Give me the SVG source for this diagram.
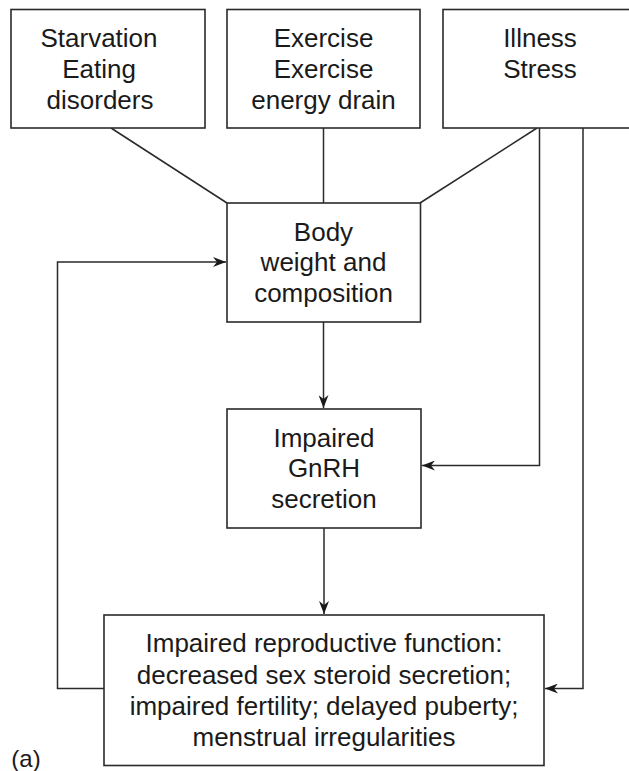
<svg xmlns="http://www.w3.org/2000/svg" width="629" height="771" viewBox="0 0 629 771">
<style>
.box{fill:#fff;stroke:#2a2a2a;stroke-width:1.6}
.ln{fill:none;stroke:#2a2a2a;stroke-width:1.5}
text{font-family:"Liberation Sans",Arial,sans-serif;font-size:26px;fill:#1a1a1a;text-anchor:middle}
</style>
<defs>
<marker id="ah" markerUnits="userSpaceOnUse" markerWidth="14" markerHeight="10" refX="13" refY="5" orient="auto">
<path d="M0,0 L13,5 L0,10 L4,5 z" fill="#1a1a1a"/>
</marker>
</defs>
<rect width="629" height="771" fill="#fff"/>
<g id="connectors">
<line class="ln" x1="111" y1="128" x2="227" y2="203"/>
<line class="ln" x1="323.5" y1="128" x2="323.5" y2="203"/>
<line class="ln" x1="537" y1="128" x2="420" y2="203"/>
<line class="ln" x1="323.5" y1="322" x2="323.5" y2="408" marker-end="url(#ah)"/>
<line class="ln" x1="324" y1="528" x2="324" y2="614" marker-end="url(#ah)"/>
<polyline class="ln" points="539.5,128 539.5,465.5 422,465.5" marker-end="url(#ah)"/>
<polyline class="ln" points="583,128 583,688.5 545,688.5" marker-end="url(#ah)"/>
<polyline class="ln" points="104,688.5 57.5,688.5 57.5,262 226,262" marker-end="url(#ah)"/>
</g>
<g id="starvation">
<rect class="box" x="11" y="9.5" width="194" height="118.5"/>
<text x="99" y="47">Starvation</text>
<text x="99" y="78">Eating</text>
<text x="100" y="109">disorders</text>
</g>
<g id="exercise">
<rect class="box" x="227" y="9.5" width="193" height="118.5"/>
<text x="323.5" y="47">Exercise</text>
<text x="323.5" y="78">Exercise</text>
<text x="323.5" y="109">energy drain</text>
</g>
<g id="illness">
<rect class="box" x="443" y="9.5" width="200" height="118.5"/>
<text x="540" y="47">Illness</text>
<text x="540" y="78">Stress</text>
</g>
<g id="body">
<rect class="box" x="227" y="203" width="193.5" height="119"/>
<text x="323.5" y="241">Body</text>
<text x="323.5" y="271">weight and</text>
<text x="323.5" y="302">composition</text>
</g>
<g id="gnrh">
<rect class="box" x="227" y="409" width="194" height="119"/>
<text x="324" y="447">Impaired</text>
<text x="324" y="477">GnRH</text>
<text x="324" y="508">secretion</text>
</g>
<g id="reproductive">
<rect class="box" x="104" y="615" width="440" height="150.5"/>
<text x="324" y="652">Impaired reproductive function:</text>
<text x="324" y="684">decreased sex steroid secretion;</text>
<text x="324" y="715">impaired fertility; delayed puberty;</text>
<text x="324" y="746">menstrual irregularities</text>
</g>
<g id="label">
<text x="26" y="767" style="font-size:24px">(a)</text>
</g>
</svg>
